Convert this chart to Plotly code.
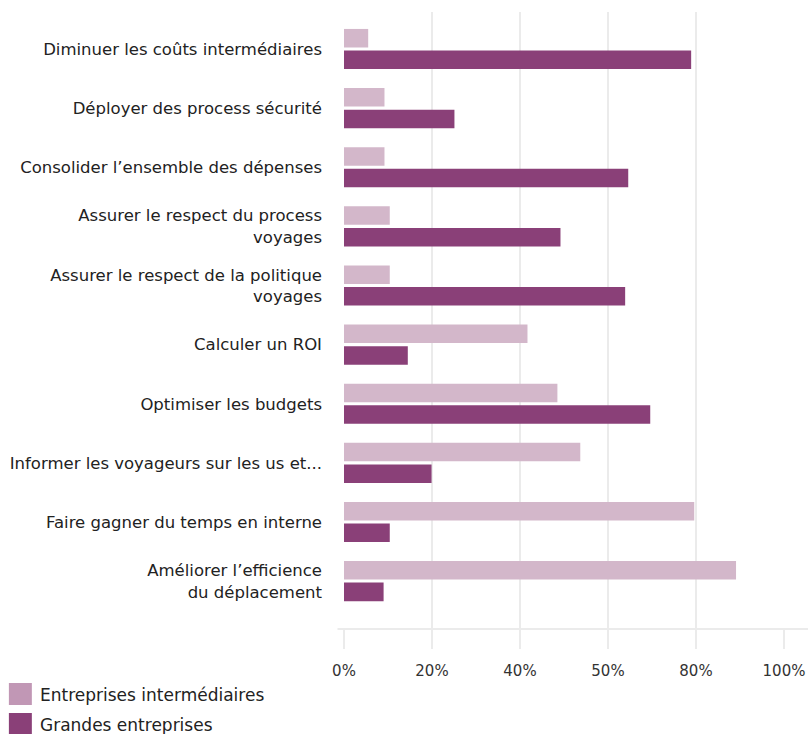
import plotly.graph_objects as go

categories = [
    "Diminuer les coûts intermédiaires",
    "Déployer des process sécurité",
    "Consolider l’ensemble des dépenses",
    "Assurer le respect du process<br>voyages",
    "Assurer le respect de la politique<br>voyages",
    "Calculer un ROI",
    "Optimiser les budgets",
    "Informer les voyageurs sur les us et...",
    "Faire gagner du temps en interne",
    "Améliorer l’efficience<br>du déplacement",
]
intermediaires = [5.5, 9.2, 9.2, 10.4, 10.4, 41.7, 48.5, 53.7, 79.6, 89.1]
grandes = [78.9, 25.1, 64.6, 49.2, 63.9, 14.5, 69.6, 19.9, 10.4, 9.0]
series_names = ["Entreprises intermédiaires", "Grandes entreprises"]
tick_vals = [0, 20, 40, 60, 80, 100]
tick_text = ["0%", "20%", "40%", "50%", "80%", "100%"]

FONT = "DejaVu Sans"
light_bar = "#d3b7ca"
light_key = "#c197b5"
dark = "#8a4078"
grid = "#ebebeb"

L, R, T, B = 343.5, 28, 12, 105
PW = 812 - L - R
PH = 734 - T - B

fig = go.Figure()
fig.add_trace(go.Bar(y=categories, x=intermediaires, orientation="h",
                     name=series_names[0], marker=dict(color=light_bar, line_width=0),
                     showlegend=False, hoverinfo="x+y"))
fig.add_trace(go.Bar(y=categories, x=grandes, orientation="h",
                     name=series_names[1], marker=dict(color=dark, line_width=0),
                     showlegend=False, hoverinfo="x+y"))

fig.update_layout(
    width=812, height=734,
    margin=dict(l=L, r=R, t=T, b=B),
    plot_bgcolor="white", paper_bgcolor="white",
    barmode="group", bargap=0.27, bargroupgap=0.14,
    font=dict(family=FONT, size=16.5, color="#222"),
    xaxis=dict(range=[0, 100], tickvals=tick_vals, ticktext=tick_text,
               showgrid=True, gridcolor=grid, gridwidth=2, zeroline=False,
               ticks="outside", ticklen=19, tickcolor=grid, tickwidth=2,
               showline=False, tickfont=dict(size=15, color="#333"),
               ticklabelstandoff=9, automargin=False, fixedrange=True),
    yaxis=dict(type="category", range=[9.81, -0.626], showgrid=False,
               zeroline=False, showline=False, ticks="",
               ticklabelstandoff=21, tickfont=dict(size=16.5, color="#222"),
               automargin=False, fixedrange=True),
)

# baseline under the bars
fig.add_shape(type="line", xref="paper", yref="paper", x0=(337 - L) / PW, x1=(808 - L) / PW,
              y0=0, y1=0, line=dict(color=grid, width=2))

# custom legend below the chart
for i, (name, col) in enumerate(zip(series_names, [light_key, dark])):
    y_top = 683 + i * 30
    fig.add_shape(type="rect", xref="paper", yref="paper",
                  x0=(8 - L) / PW, x1=(31 - L) / PW,
                  y0=(734 - B - y_top) / PH, y1=(734 - B - y_top - 22) / PH,
                  fillcolor=col, line_width=0)
    fig.add_annotation(xref="paper", yref="paper",
                       x=(37 - L) / PW, y=(734 - B - y_top - 12) / PH,
                       text=name, showarrow=False, xanchor="left", yanchor="middle",
                       font=dict(family=FONT, size=17, color="#222"))

fig.write_html("out.html")
